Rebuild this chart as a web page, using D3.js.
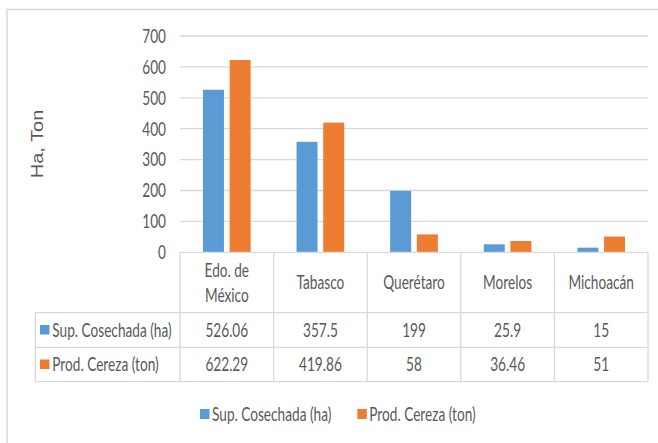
<!DOCTYPE html>
<html>
<head>
<meta charset="utf-8">
<script src="https://cdn.jsdelivr.net/npm/d3@7"></script>
<style>
  body { margin: 0; background: #fff; }
  text { font-family: Lato, "Open Sans", sans-serif; fill: #595959; }
</style>
</head>
<body>
<div id="chart"></div>
<script>
// data
const categories = ["Edo. de México", "Tabasco", "Querétaro", "Morelos", "Michoacán"];
const categoryLines = [["Edo. de", "México"], ["Tabasco"], ["Querétaro"], ["Morelos"], ["Michoacán"]];
const seriesNames = ["Sup. Cosechada (ha)", "Prod. Cereza (ton)"];
const supCosechada = [526.06, 357.5, 199, 25.9, 15];
const prodCereza = [622.29, 419.86, 58, 36.46, 51];
const tableText = [["526.06", "357.5", "199", "25.9", "15"], ["622.29", "419.86", "58", "36.46", "51"]];
const yTicks = [0, 100, 200, 300, 400, 500, 600, 700];
const colors = ["#5B9BD5", "#ED7D31"];

const W = 658, H = 443;
const SX = 0.7; // text looks horizontally condensed
const plot = { left: 180, right: 648, top: 36, bottom: 252.3 };
const rows = { header: 312.7, r1: 347.3, r2: 381.7 };
const tableLeft = 35.3;
const grid = "#D9D9D9";

const svg = d3.select("#chart").append("svg")
    .attr("width", W)
    .attr("height", H);

// outer frame (runs past the right and bottom edges)
svg.append("rect")
    .attr("x", 7).attr("y", 9.5)
    .attr("width", W + 10).attr("height", H + 10)
    .attr("fill", "none").attr("stroke", grid).attr("stroke-width", 1.5);

const x0 = d3.scaleBand()
    .domain(categories)
    .range([plot.left, plot.right])
    .padding(0);
const x1 = d3.scaleBand()
    .domain(seriesNames)
    .range([0, x0.bandwidth()])
    .paddingInner(0.213)
    .paddingOuter(0.86);
const y = d3.scaleLinear()
    .domain([0, 700])
    .range([plot.bottom, plot.top]);

function sText(g, x, yy, str, anchor, size) {
    return g.append("text")
        .attr("transform", `translate(${x},${yy}) scale(${SX},1)`)
        .attr("text-anchor", anchor)
        .attr("dy", "0.35em")
        .style("font-size", (size || 19.5) + "px")
        .text(str);
}

// gridlines
svg.append("g").selectAll("line")
    .data(yTicks.filter(d => d > 0))
    .join("line")
    .attr("x1", plot.left).attr("x2", plot.right)
    .attr("y1", d => y(d)).attr("y2", d => y(d))
    .attr("stroke", grid).attr("stroke-width", 1.3);

// y tick labels
const yl = svg.append("g");
yTicks.forEach(t => sText(yl, 166, y(t), String(t), "end"));

// y axis title
svg.append("text")
    .attr("transform", "translate(37.5,144) rotate(-90) scale(1,0.8)")
    .attr("text-anchor", "middle")
    .attr("dy", "0.35em")
    .style("font-family", "'Liberation Sans', Arial, sans-serif")
    .style("font-size", "20px")
    .text("Ha, Ton");

// bars
const series = [supCosechada, prodCereza];
series.forEach((vals, si) => {
    svg.append("g").selectAll("rect")
        .data(vals)
        .join("rect")
        .attr("x", (d, i) => x0(categories[i]) + x1(seriesNames[si]))
        .attr("width", x1.bandwidth())
        .attr("y", d => y(d))
        .attr("height", d => y(0) - y(d))
        .attr("fill", colors[si]);
});

// data table lines
const tg = svg.append("g").attr("stroke", grid).attr("stroke-width", 1.3).attr("fill", "none");
tg.append("line").attr("x1", plot.left).attr("x2", plot.right).attr("y1", plot.bottom).attr("y2", plot.bottom);
[rows.header, rows.r1, rows.r2].forEach(yy =>
    tg.append("line").attr("x1", tableLeft).attr("x2", plot.right).attr("y1", yy).attr("y2", yy));
tg.append("line").attr("x1", tableLeft).attr("x2", tableLeft).attr("y1", rows.header).attr("y2", rows.r2);
categories.forEach(c =>
    tg.append("line").attr("x1", x0(c)).attr("x2", x0(c)).attr("y1", plot.bottom).attr("y2", rows.r2));
tg.append("line").attr("x1", plot.right).attr("x2", plot.right).attr("y1", plot.bottom).attr("y2", rows.r2);

// header labels
const hg = svg.append("g");
categories.forEach((c, i) => {
    const cx = x0(c) + x0.bandwidth() / 2;
    const lines = categoryLines[i];
    const mid = (plot.bottom + rows.header) / 2;
    lines.forEach((ln, j) => {
        sText(hg, cx, mid + (j - (lines.length - 1) / 2) * 24.5, ln, "middle");
    });
});

// rows
const rowMids = [(rows.header + rows.r1) / 2, (rows.r1 + rows.r2) / 2];
tableText.forEach((vals, si) => {
    const ym = rowMids[si];
    svg.append("rect").attr("x", 40).attr("y", ym - 5).attr("width", 9.5).attr("height", 9.5).attr("fill", colors[si]);
    sText(svg, 52.3, ym, seriesNames[si], "start");
    vals.forEach((v, i) => sText(svg, x0(categories[i]) + x0.bandwidth() / 2, ym, v, "middle"));
});

// legend
const legendX = [200, 357.3];
seriesNames.forEach((s, i) => {
    svg.append("rect").attr("x", legendX[i]).attr("y", 409).attr("width", 9.5).attr("height", 10).attr("fill", colors[i]);
    sText(svg, legendX[i] + 12, 414, s, "start");
});
</script>
</body>
</html>
